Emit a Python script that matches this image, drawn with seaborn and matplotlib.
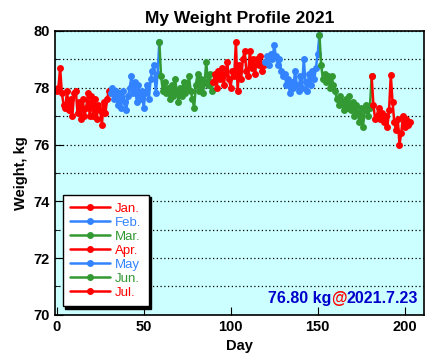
import pandas as pd
import matplotlib
matplotlib.use("Agg")
import matplotlib.pyplot as plt
import seaborn as sns

# daily weight in kg, day 0 = 1 Jan 2021
jan = [77.9, 78.0, 78.7, 77.8, 77.4, 77.3, 77.9, 77.2, 77.6, 77.0, 77.8, 77.9, 77.1, 77.5, 76.9, 77.6,
       77.0, 77.3, 77.8, 77.0, 77.7, 77.0, 77.6, 76.9, 77.4, 77.2, 76.7, 77.5, 77.1, 77.6, 77.9]
feb = [77.8, 78.0, 77.6, 77.9, 77.4, 77.8, 77.3, 77.9, 77.5, 77.2, 77.7, 78.0, 78.4, 77.8, 78.2, 77.5,
       78.1, 77.6, 77.9, 77.3, 77.8, 78.1, 77.6, 78.3, 78.6, 78.8, 77.8, 78.5]
mar = [79.6, 78.4, 77.9, 78.2, 77.8, 78.0, 77.6, 78.1, 77.7, 78.3, 77.9, 77.5, 78.0, 77.7, 78.2, 77.8,
       78.0, 78.4, 77.9, 77.6, 77.3, 78.1, 78.5, 77.9, 78.3, 77.8, 78.2, 78.9, 78.1, 78.5, 77.9]
apr = [78.2, 78.5, 78.0, 78.6, 78.3, 78.7, 78.1, 78.5, 78.9, 78.3, 78.0, 78.6, 78.4, 79.6, 77.9, 78.8,
       78.3, 79.0, 79.3, 78.6, 78.4, 79.3, 78.7, 79.0, 78.5, 79.0, 78.8, 79.1, 78.6, 78.8]
may = [78.9, 79.1, 78.8, 79.2, 79.0, 79.5, 79.1, 78.8, 79.0, 78.6, 78.4, 78.5, 78.1, 78.3, 77.8, 78.2,
       78.0, 78.6, 78.1, 77.9, 78.4, 78.0, 79.0, 78.2, 77.9, 78.5, 78.1, 78.6, 78.3, 78.7, 79.2]
jun = [79.85, 78.8, 78.3, 78.5, 78.2, 78.4, 78.0, 78.4, 78.1, 77.9, 77.6, 77.4, 77.7, 77.5, 77.2, 77.6,
       77.3, 77.7, 77.2, 77.5, 77.0, 77.4, 77.1, 76.8, 77.3, 76.6, 77.2, 77.4, 77.0, 77.3]
jul = [78.4, 77.4, 76.9, 77.0, 77.3, 76.9, 77.1, 76.8, 77.0, 76.6, 77.2, 78.45, 77.5, 76.8, 76.5, 76.9,
       76.0, 76.4, 77.0, 76.6, 76.9, 76.7, 76.8]

months = ["Jan.", "Feb.", "Mar.", "Apr.", "May", "Jun.", "Jul."]
colors = ["#ff0000", "#3383ff", "#339933", "#ff0000", "#3383ff", "#339933", "#ff0000"]
series = [jan, feb, mar, apr, may, jun, jul]

# long table; each month also carries the next month's first day so lines join up
rows = []
start = 0
for i, (m, vals) in enumerate(zip(months, series)):
    for k, v in enumerate(vals):
        rows.append((start + k, v, m))
    if i + 1 < len(series):
        rows.append((start + len(vals), series[i + 1][0], m))
    start += len(vals)
df = pd.DataFrame(rows, columns=["day", "kg", "month"])

sns.set_style("ticks")
plt.rcParams["font.family"] = ["Liberation Sans", "DejaVu Sans"]
for key in ["text.color", "axes.labelcolor", "xtick.color", "ytick.color", "axes.edgecolor"]:
    plt.rcParams[key] = "black"

fig = plt.figure(figsize=(4.29, 3.64), dpi=100)
ax = fig.add_axes([0.128, 0.135, 0.86, 0.78])
ax.set_facecolor("#ccffff")

sns.lineplot(data=df, x="day", y="kg", hue="month", hue_order=months,
             palette=dict(zip(months, colors)), marker="o", markersize=5,
             markeredgewidth=0, linewidth=1.8, estimator=None, ax=ax)

ax.set_xlim(-1, 211)
ax.set_ylim(70, 80)
ax.set_yticks([70, 72, 74, 76, 78, 80])
ax.set_yticks(range(70, 81), minor=True)
ax.set_xticks([0, 50, 100, 150, 200])
ax.grid(axis="y", which="both", color="black", linestyle=(0, (1, 2)), linewidth=0.9)
ax.tick_params(direction="in", which="both", top=False, right=False)
ax.tick_params(which="major", length=6, labelsize=10.5)
ax.tick_params(which="minor", length=3)
for lab in ax.get_xticklabels() + ax.get_yticklabels():
    lab.set_fontweight("bold")
for s in ax.spines.values():
    s.set_linewidth(1.2)

ax.set_xlabel("Day", fontsize=10.5, fontweight="bold")
ax.set_ylabel("Weight, kg", fontsize=10.5, fontweight="bold")
ax.set_title("My Weight Profile 2021", fontsize=12.5, fontweight="bold", pad=6)

handles, labels = ax.get_legend_handles_labels()
leg = ax.legend(handles, labels, loc="lower left", bbox_to_anchor=(0.022, 0.03),
                borderaxespad=0, fancybox=False,
                shadow={"color": "black", "alpha": 1, "ox": 1.6, "oy": -1.6},
                edgecolor="black", framealpha=1, fontsize=9.5, handlelength=3.0,
                labelspacing=0.14, handletextpad=0.4, borderpad=0.55)
leg.get_frame().set_linewidth(1)
for txt, c in zip(leg.get_texts(), colors):
    txt.set_color(c)

t3 = ax.text(0.985, 0.03, "2021.7.23", transform=ax.transAxes, ha="right", va="bottom",
             color="#0000cc", fontsize=11.5, fontweight="bold")
t2 = ax.annotate("@", xy=(0, 0), xycoords=t3, ha="right", va="bottom",
                 color="#ff0000", fontsize=11.5, fontweight="bold")
t1 = ax.annotate(f"{jul[-1]:.2f} kg", xy=(0, 0), xycoords=t2, ha="right", va="bottom",
                 color="#0000cc", fontsize=11.5, fontweight="bold")

fig.savefig("out.png", dpi=100)
